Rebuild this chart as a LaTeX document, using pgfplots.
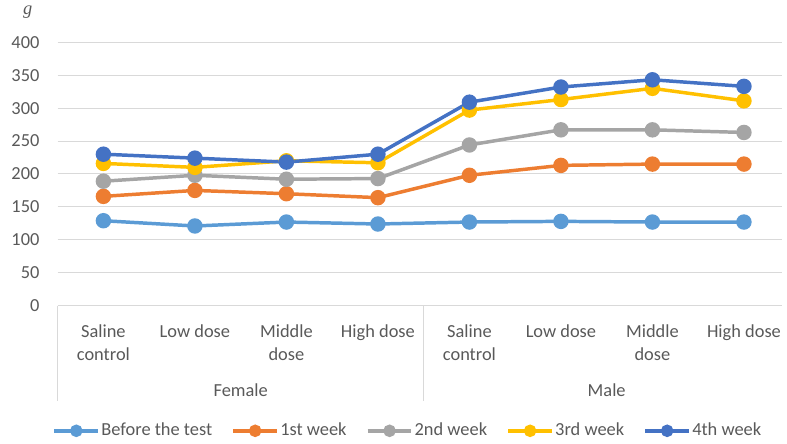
\documentclass[border=0pt]{standalone}
\usepackage{pgfplots}
\pgfplotsset{compat=1.18}
\usepackage{fontspec}
\setmainfont{Carlito}
\newfontfamily\unitfont{Liberation Serif}

\definecolor{sBefore}{HTML}{5B9BD5}
\definecolor{sWeekA}{HTML}{ED7D31}
\definecolor{sWeekB}{HTML}{A5A5A5}
\definecolor{sWeekC}{HTML}{FFC000}
\definecolor{sWeekD}{HTML}{4472C4}
\definecolor{gridc}{HTML}{D9D9D9}
\definecolor{txt}{HTML}{595959}

\begin{document}
\fontsize{18.5}{23}\selectfont
\begin{tikzpicture}
  \begin{axis}[
      name=ax,
      scale only axis,
      width=729pt,
      height=265pt,
      xmin=-0.5, xmax=7.42,
      ymin=0, ymax=400,
      ytick={0,50,...,400},
      xtick={0,...,7},
      xticklabels={{Saline\\control},{Low dose},{Middle\\dose},{High dose},
                   {Saline\\control},{Low dose},{Middle\\dose},{High dose}},
      x tick label style={align=center, anchor=north, yshift=-13pt, text=txt},
      y tick label style={xshift=-12pt, text=txt},
      /pgf/number format/assume math mode=true,
      major tick length=0pt,
      ymajorgrids,
      grid style={draw=gridc, line width=1pt},
      axis line style={draw=none},
      clip=false,
      every axis plot/.append style={line width=3.5pt, mark=*, mark size=6pt},
      legend columns=5,
      legend style={at={(0.483,-0.475)}, anchor=center, draw=none, fill=none,
                    nodes={inner sep=1.5pt, text=txt},
                    /tikz/every even column/.append style={column sep=18pt}},
      legend image code/.code={
        \draw[mark repeat=2, mark phase=2, #1, mark size=4.5pt]
          plot coordinates {(0pt,0pt) (22pt,0pt) (44pt,0pt)};
      },
    ]
    \addplot[color=sBefore] coordinates {
      (0,129) (1,121) (2,127) (3,124) (4,127) (5,128) (6,127) (7,127)};
    \addlegendentry{Before the test}
    \addplot[color=sWeekA] coordinates {
      (0,166) (1,175) (2,170) (3,164) (4,198) (5,213) (6,215) (7,215)};
    \addlegendentry{1st week}
    \addplot[color=sWeekB] coordinates {
      (0,189) (1,198) (2,192) (3,193) (4,244) (5,267) (6,267) (7,263)};
    \addlegendentry{2nd week}
    \addplot[color=sWeekC] coordinates {
      (0,216) (1,210) (2,220) (3,217) (4,297) (5,313) (6,330) (7,311)};
    \addlegendentry{3rd week}
    \addplot[color=sWeekD] coordinates {
      (0,230) (1,224) (2,218) (3,230) (4,309) (5,332) (6,343) (7,333)};
    \addlegendentry{4th week}

    % group separators and group names
    \draw[gridc, line width=1pt] (axis cs:-0.5,0) -- ++(0pt,-96pt);
    \draw[gridc, line width=1pt] (axis cs:3.5,0) -- ++(0pt,-96pt);
    \node[text=txt] at (axis cs:1.5,0) [yshift=-85pt] {Female};
    \node[text=txt] at (axis cs:5.5,0) [yshift=-85pt] {Male};
  \end{axis}
  \node[text=txt] at ([xshift=-30pt, yshift=30pt]ax.north west) {\unitfont\itshape g};
  \path ([xshift=-58pt, yshift=-139pt]ax.south west) rectangle ([yshift=42pt]ax.north east);
\end{tikzpicture}
\end{document}
